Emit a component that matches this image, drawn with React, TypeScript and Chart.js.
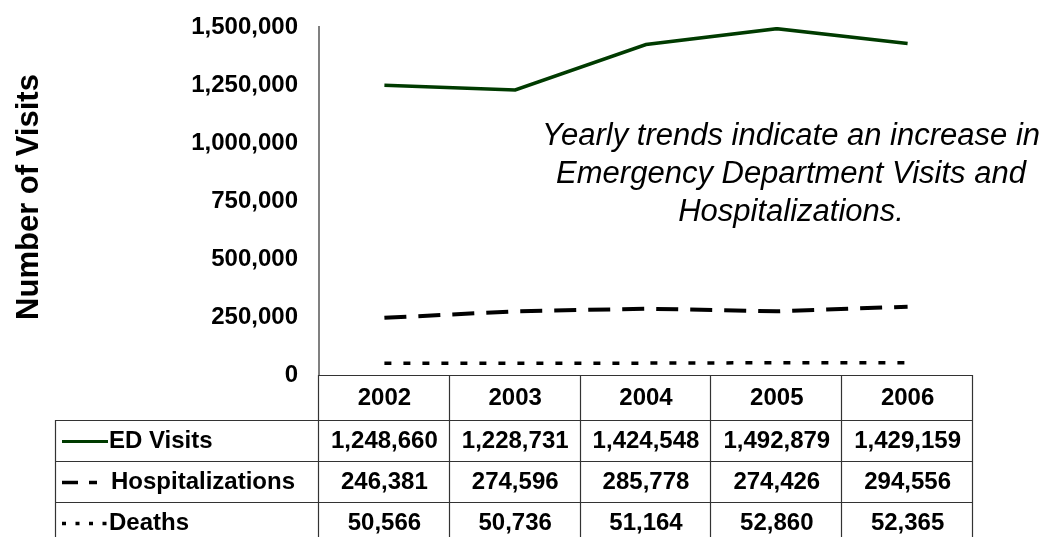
import React, { useEffect, useRef } from 'react';
import { Chart, registerables } from 'chart.js';

Chart.register(...registerables);

const years = ['2002', '2003', '2004', '2005', '2006'];
const edVisits = [1248660, 1228731, 1424548, 1492879, 1429159];
const hospitalizations = [246381, 274596, 285778, 274426, 294556];
const deaths = [50566, 50736, 51164, 52860, 52365];
const seriesNames = ['ED Visits', 'Hospitalizations', 'Deaths'];
const yMin = 0;
const yMax = 1500000;
const yStep = 250000;
const yTitle = 'Number of Visits';
const annotationLines = [
  'Yearly trends indicate an increase in',
  'Emergency Department Visits and',
  'Hospitalizations.',
];

const FONT = "'Liberation Sans', Arial, Helvetica, sans-serif";
const ED_COLOR = '#003b00';
const HOSP_DASH = [22, 12];
const DEATH_DASH = [7, 12];

const fmt = (v: number) => v.toLocaleString('en-US');

const tablePlugin = {
  id: 'dataTable',
  afterDraw(chart: any) {
    const ctx: CanvasRenderingContext2D = chart.ctx;
    const area = chart.chartArea;
    const xs = chart.scales.x;
    const n = years.length;
    const centers = years.map((_, i) => xs.getPixelForValue(i));
    const edges: number[] = [area.left];
    for (let i = 0; i < n - 1; i++) edges.push((centers[i] + centers[i + 1]) / 2);
    edges.push(area.right);

    const top = area.bottom;
    const headerH = 45;
    const rowH = 41;
    const legendLeft = 55;
    const rowTops = [top + headerH, top + headerH + rowH, top + headerH + 2 * rowH];
    const bottom = top + headerH + 3 * rowH;

    ctx.save();
    ctx.strokeStyle = '#333333';
    ctx.lineWidth = 1.2;
    const hline = (x1: number, x2: number, y: number) => {
      ctx.beginPath();
      ctx.moveTo(x1, Math.round(y) + 0.5);
      ctx.lineTo(x2, Math.round(y) + 0.5);
      ctx.stroke();
    };
    const vline = (x: number, y1: number, y2: number) => {
      ctx.beginPath();
      ctx.moveTo(Math.round(x) - 0.5, y1);
      ctx.lineTo(Math.round(x) - 0.5, y2);
      ctx.stroke();
    };
    hline(area.left - 1, area.right, top);
    rowTops.forEach((y) => hline(legendLeft, area.right, y));
    edges.forEach((x) => vline(x, top, bottom));
    vline(legendLeft + 1, rowTops[0], bottom);

    ctx.fillStyle = '#000';
    ctx.font = `bold 24px ${FONT}`;
    ctx.textAlign = 'center';
    ctx.textBaseline = 'middle';
    years.forEach((y, i) => ctx.fillText(y, centers[i], top + headerH / 2 + 1));

    const rows = [edVisits, hospitalizations, deaths];
    rows.forEach((vals, r) => {
      const cy = rowTops[r] + rowH / 2 + 1;
      vals.forEach((v, i) => ctx.fillText(fmt(v), centers[i], cy));
    });

    // legend labels
    ctx.textAlign = 'left';
    seriesNames.forEach((name, r) => {
      const cy = rowTops[r] + rowH / 2 + 1;
      ctx.fillText(name, r === 1 ? 111 : 109, cy);
    });

    // legend samples
    const sy = (r: number) => Math.round(rowTops[r] + rowH / 2) + 0.5;
    ctx.lineCap = 'butt';
    ctx.strokeStyle = ED_COLOR;
    ctx.lineWidth = 3;
    ctx.setLineDash([]);
    ctx.beginPath();
    ctx.moveTo(62, sy(0));
    ctx.lineTo(108, sy(0));
    ctx.stroke();

    ctx.strokeStyle = '#000';
    ctx.lineWidth = 3.5;
    ctx.setLineDash([16, 11]);
    ctx.beginPath();
    ctx.moveTo(62, sy(1));
    ctx.lineTo(97, sy(1));
    ctx.stroke();

    ctx.lineWidth = 3.5;
    ctx.setLineDash([4, 9.5]);
    ctx.beginPath();
    ctx.moveTo(62, sy(2));
    ctx.lineTo(108, sy(2));
    ctx.stroke();
    ctx.setLineDash([]);

    // y-axis title
    ctx.save();
    ctx.translate(29, (area.top + area.bottom) / 2 - 4);
    ctx.rotate(-Math.PI / 2);
    ctx.font = `bold 31px ${FONT}`;
    ctx.textAlign = 'center';
    ctx.textBaseline = 'middle';
    ctx.fillText(yTitle, 0, 0);
    ctx.restore();

    // annotation
    ctx.fillStyle = '#000';
    ctx.font = `italic 31px ${FONT}`;
    ctx.textAlign = 'center';
    ctx.textBaseline = 'alphabetic';
    const ax = area.left + 472;
    annotationLines.forEach((line, i) => {
      ctx.fillText(line, ax, area.top + 118 + i * 38);
    });
    ctx.restore();
  },
};

export default function App() {
  const canvasRef = useRef<HTMLCanvasElement | null>(null);

  useEffect(() => {
    const canvas = canvasRef.current;
    if (!canvas) return;
    const chart = new Chart(canvas, {
      type: 'line',
      data: {
        labels: years,
        datasets: [
          {
            label: seriesNames[0],
            data: edVisits,
            borderColor: ED_COLOR,
            borderWidth: 3.5,
            pointRadius: 0,
            tension: 0,
            fill: false,
          },
          {
            label: seriesNames[1],
            data: hospitalizations,
            borderColor: '#000',
            borderWidth: 4,
            borderDash: HOSP_DASH,
            pointRadius: 0,
            tension: 0,
            fill: false,
          },
          {
            label: seriesNames[2],
            data: deaths,
            borderColor: '#000',
            borderWidth: 3.5,
            borderDash: DEATH_DASH,
            pointRadius: 0,
            tension: 0,
            fill: false,
          },
        ],
      },
      options: {
        responsive: false,
        animation: false,
        devicePixelRatio: 1,
        layout: { padding: { top: 27, right: 89, bottom: 162, left: 0 } },
        plugins: {
          legend: { display: false },
          tooltip: { enabled: false },
          title: { display: false },
        },
        scales: {
          x: {
            type: 'category',
            display: false,
            offset: true,
          },
          y: {
            min: yMin,
            max: yMax,
            ticks: {
              stepSize: yStep,
              color: '#000',
              padding: 21,
              font: { family: FONT, size: 24, weight: 'bold' },
              callback: (v: any) => fmt(Number(v)),
            },
            grid: { display: false, drawTicks: false },
            border: { display: true, color: '#808080', width: 2 },
            title: { display: false, text: yTitle },
            afterFit: (scale: any) => {
              scale.width = 319;
              scale.paddingTop = 0;
              scale.paddingBottom = 0;
            },
          },
        },
      },
      plugins: [tablePlugin],
    });
    return () => chart.destroy();
  }, []);

  return (
    <div style={{ position: 'fixed', left: 0, top: 0, width: 1062, height: 537, background: '#fff' }}>
      <canvas ref={canvasRef} width={1062} height={537} style={{ width: 1062, height: 537, display: 'block' }} />
    </div>
  );
}
